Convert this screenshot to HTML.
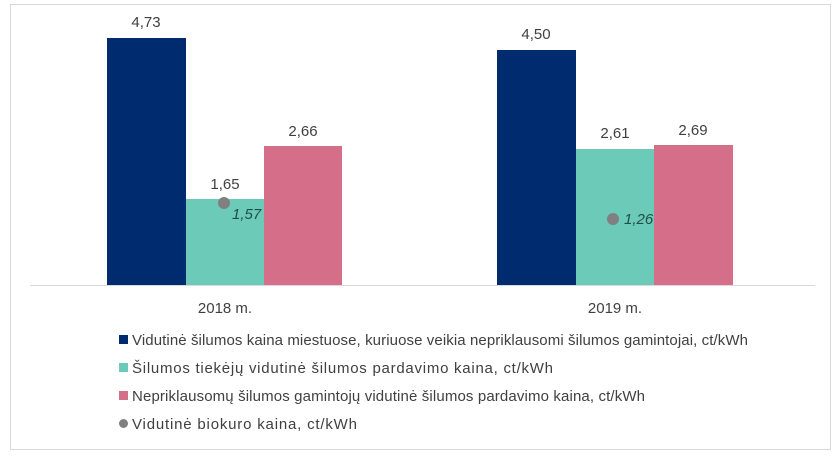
<!DOCTYPE html>
<html><head><meta charset="utf-8"><style>
body{margin:0;background:#fff;}
svg text{font-family:"Liberation Sans",sans-serif;fill:#404040;}
</style></head><body>
<svg width="840" height="456" xmlns="http://www.w3.org/2000/svg">
<rect x="10.5" y="4.5" width="820" height="445" fill="#fff" stroke="#d9d9d9"/>
<rect x="107" y="38" width="79" height="247" fill="#002b6e"/>
<rect x="186" y="199" width="78" height="86" fill="#6ccab8"/>
<rect x="264" y="146" width="78" height="139" fill="#d56e88"/>
<rect x="497" y="50" width="79" height="235" fill="#002b6e"/>
<rect x="576" y="149" width="78" height="136" fill="#6ccab8"/>
<rect x="654" y="145" width="79" height="140" fill="#d56e88"/>
<line x1="30" y1="285.5" x2="815" y2="285.5" stroke="#d9d9d9"/>
<g font-size="15" text-anchor="middle">
<text x="146" y="27">4,73</text>
<text x="225" y="189">1,65</text>
<text x="303" y="136">2,66</text>
<text x="536" y="39">4,50</text>
<text x="615" y="138">2,61</text>
<text x="693" y="135">2,69</text>
<text x="225" y="313">2018 m.</text>
<text x="615" y="313">2019 m.</text>
</g>
<circle cx="224" cy="203" r="6" fill="#808080"/>
<circle cx="613" cy="219" r="6" fill="#808080"/>
<g font-size="15" font-style="italic">
<text x="232" y="219" style="fill:#1f4f46">1,57</text>
<text x="624" y="224" style="fill:#1f4f46">1,26</text>
</g>
<rect x="119" y="335" width="9" height="9" fill="#002b6e"/>
<rect x="119" y="363" width="9" height="9" fill="#6ccab8"/>
<rect x="119" y="391" width="9" height="9" fill="#d56e88"/>
<circle cx="123.5" cy="423.5" r="4.5" fill="#808080"/>
<g font-size="15">
<text x="132" y="345" textLength="616" lengthAdjust="spacing">Vidutinė šilumos kaina miestuose, kuriuose veikia nepriklausomi šilumos gamintojai, ct/kWh</text>
<text x="132" y="373" textLength="421" lengthAdjust="spacing">Šilumos tiekėjų vidutinė šilumos pardavimo kaina, ct/kWh</text>
<text x="132" y="401" textLength="513" lengthAdjust="spacing">Nepriklausomų šilumos gamintojų vidutinė šilumos pardavimo kaina, ct/kWh</text>
<text x="132" y="429" textLength="225" lengthAdjust="spacing">Vidutinė biokuro kaina, ct/kWh</text>
</g>
</svg>
</body></html>
